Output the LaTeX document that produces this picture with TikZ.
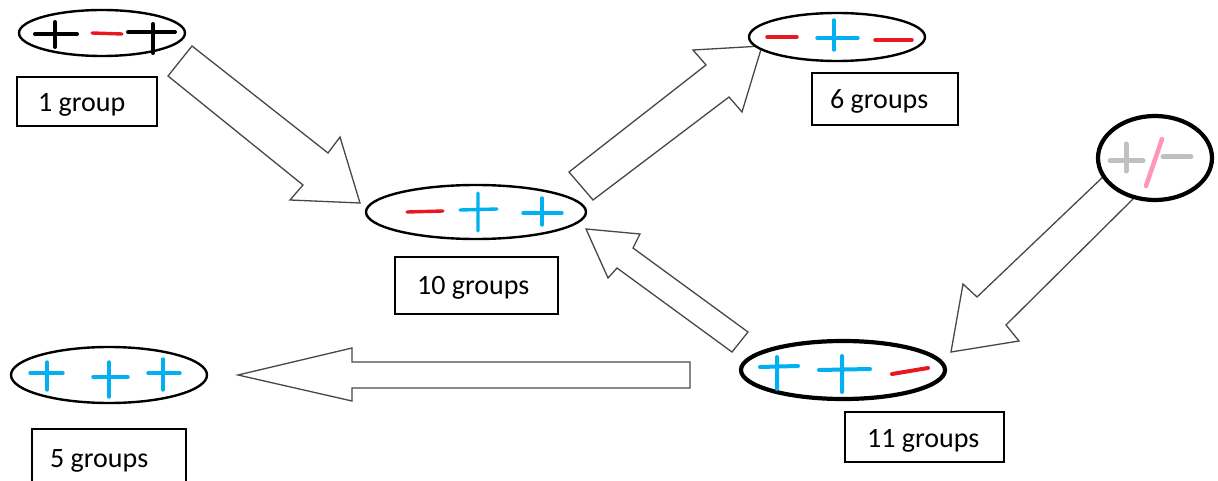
\documentclass[tikz,border=0pt]{standalone}
\usepackage{fontspec}
\setmainfont{Carlito}
\usetikzlibrary{shapes.geometric}
\definecolor{sblue}{RGB}{0,176,240}
\definecolor{sred}{RGB}{232,24,32}
\definecolor{sgray}{RGB}{192,192,192}
\definecolor{spink}{RGB}{255,150,185}
\begin{document}
\begin{tikzpicture}[x=1pt,y=-1pt,
  grp/.style={ellipse,draw=black,line width=2.4pt,fill=white,inner sep=0pt},
  thickgrp/.style={grp,line width=4.2pt},
  cnt/.style={draw=black,line width=1.5pt,inner sep=0pt},
  lbl/.style={anchor=base west,inner sep=0pt,font=\fontsize{28}{32}\selectfont},
  barrow/.style={draw=black!72,line width=1.3pt,fill=white,line join=miter},
  sgn/.style={line width=3.4pt,line cap=round}]
\clip (0,0) rectangle (1218,481);
\fill[white] (0,0) rectangle (1218,481);

% block arrows
\draw[barrow] (192,46) -- (328,153) -- (340,137) -- (360,203) -- (290,200) -- (303,185) -- (168,76) -- cycle;
\draw[barrow] (569,172) -- (706,65) -- (693,50) -- (762,46) -- (742,112) -- (729,97) -- (593,200) -- cycle;
\draw[barrow] (586,229) -- (640,234) -- (633,248) -- (748,332) -- (732,352) -- (617,268) -- (608,278) -- cycle;
\draw[barrow] (1105,175) -- (977,297) -- (963,284) -- (951,352) -- (1019,341) -- (1006,325) -- (1134,198) -- cycle;
\draw[barrow] (238,375) -- (352,348) -- (352,362) -- (690,362) -- (690,388) -- (352,388) -- (352,401) -- cycle;

% groups
\node[grp,minimum width=166pt,minimum height=46pt] (e1) at (102,33) {};
\node[grp,minimum width=220pt,minimum height=54pt] (e10) at (476,212) {};
\node[grp,minimum width=176pt,minimum height=48pt] (e6) at (837,37) {};
\node[thickgrp,minimum width=114pt,minimum height=84pt] (epm) at (1155,158) {};
\node[thickgrp,minimum width=204pt,minimum height=58pt] (e11) at (843,370) {};
\node[grp,minimum width=196pt,minimum height=56pt] (e5) at (109,375) {};

% signs: + - +
\draw[sgn,black,line width=4pt] (35,34) -- (77,34) (55,22) -- (55,47);
\draw[sgn,sred] (92,33) -- (122,34);
\draw[sgn,black,line width=4pt] (128,32) -- (175,32) (153,24) -- (153,53);
% - + +
\draw[sgn,sred] (407,212) -- (443,211);
\draw[sgn,sblue] (460,210) -- (497,209) (478,193) -- (478,231);
\draw[sgn,sblue] (523,213) -- (562,213) (542,198) -- (542,225);
% - + -
\draw[sgn,sred] (767,37) -- (797,37);
\draw[sgn,sblue] (817,38) -- (858,38) (834,20) -- (834,50);
\draw[sgn,sred] (875,40) -- (912,40);
% +/-
\draw[sgn,sgray,line width=5pt] (1110,161) -- (1143,161) (1126,144) -- (1126,171);
\draw[sgn,spink,line width=4.5pt] (1162,139) -- (1146,186);
\draw[sgn,sgray,line width=5pt] (1163,157) -- (1191,157);
% + + -
\draw[sgn,sblue,line width=4pt] (760,367) -- (798,366) (777,357) -- (777,389);
\draw[sgn,sblue,line width=4pt] (819,370) -- (870,369) (842,356) -- (842,392);
\draw[sgn,sred,line width=4pt] (892,374) -- (928,368);
% + + +
\draw[sgn,sblue] (30,373) -- (63,373) (47,362) -- (47,390);
\draw[sgn,sblue] (93,377) -- (128,377) (109,362) -- (109,397);
\draw[sgn,sblue] (148,373) -- (180,373) (163,359) -- (163,390);

% count boxes
\node[cnt,minimum width=140pt,minimum height=49pt] (b1) at (87,101.5) {};
\node[cnt,minimum width=163pt,minimum height=57pt] (b10) at (476.5,285.5) {};
\node[cnt,minimum width=146pt,minimum height=52pt] (b6) at (885,99) {};
\node[cnt,minimum width=159pt,minimum height=50pt] (b11) at (924.5,437) {};
\node[cnt,minimum width=154pt,minimum height=62pt] (b5) at (109,460) {};

\node[lbl] (t1) at (38,112) {1 group};
\node[lbl] (t10) at (417,294) {10 groups};
\node[lbl] (t6) at (830,109) {6 groups};
\node[lbl] (t11) at (867,447) {11 groups};
\node[lbl] (t5) at (50,467) {5 groups};
\end{tikzpicture}
\end{document}
